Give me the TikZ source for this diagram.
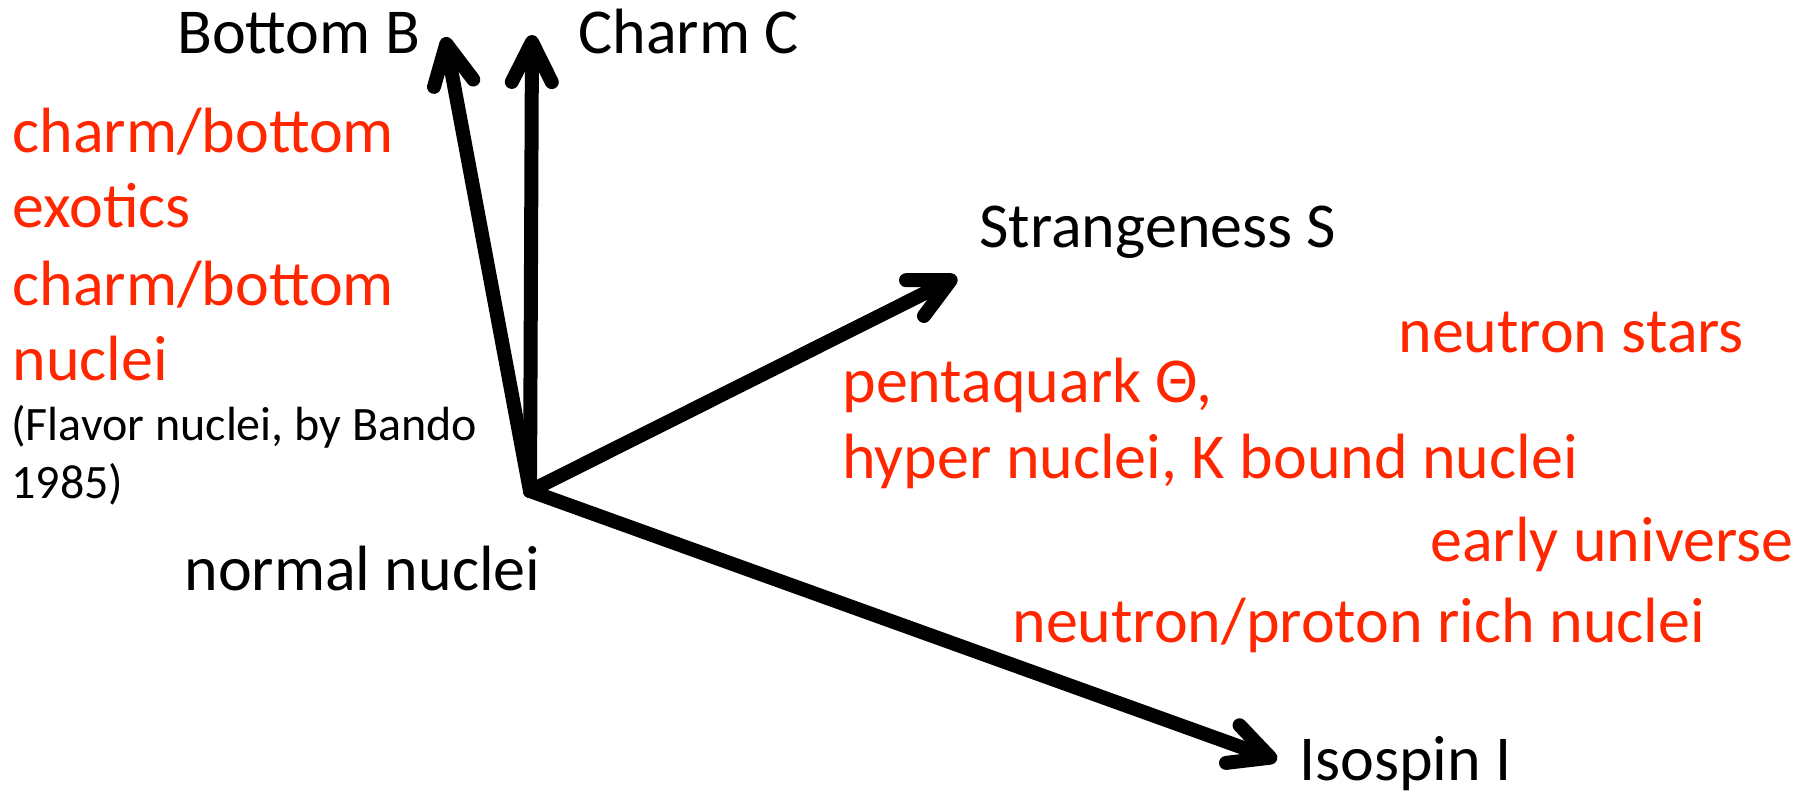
\documentclass[tikz,border=0pt]{standalone}
\usepackage{fontspec}
\setmainfont{Carlito}
\usetikzlibrary{arrows.meta}
\definecolor{hired}{RGB}{255,38,0}
\begin{document}
\begin{tikzpicture}[x=0.5pt,y=-0.5pt,
  axis/.style={line width=7pt, line cap=round, line join=round,
    -{Straight Barb[length=20pt,width=20pt,line cap=round,line join=round]}},
  big/.style={font=\fontsize{32}{38}\selectfont, anchor=base west, inner sep=0pt},
  lab/.style={big, text=black},
  redlab/.style={big, text=hired},
  small/.style={font=\fontsize{24}{29}\selectfont, anchor=base west, inner sep=0pt, text=black}]
\useasboundingbox (0,0) rectangle (1811,799);

% axes
\coordinate (O) at (530,491);
\coordinate (tB) at (445,37);
\coordinate (tC) at (532,35);
\coordinate (tS) at (957,277);
\coordinate (tI) at (1277,760);

\draw[axis] (O) -- (tB);
\draw[axis] (O) -- (tC);
\draw[axis] (O) -- (tS);
\draw[axis] (O) -- (tI);

% axis labels
\node[lab] (lB) at (177,53) {Bottom B};
\node[lab] (lC) at (578,53) {Charm C};
\node[lab] (lS) at (979,247) {Strangeness S};
\node[lab] (lI) at (1299,780) {Isospin I};
\node[lab] (ln) at (184,590) {normal nuclei};

% left block
\node[redlab] (r1) at (12,152) {charm/bottom};
\node[redlab] (r2) at (12,227) {exotics};
\node[redlab] (r3) at (12,305) {charm/bottom};
\node[redlab] (r4) at (12,380) {nuclei};
\node[small] (s1) at (11,440) {(Flavor nuclei, by Bando};
\node[small] (s2) at (11,498) {1985)};

% right block
\node[redlab] (ns) at (1398,352) {neutron stars};
\node[redlab] (pq) at (842,402) {pentaquark Θ,};
\node[redlab] (hy) at (842,478) {hyper nuclei, K bound nuclei};
\node[redlab] (eu) at (1430,561) {early universe};
\node[redlab] (np) at (1012,642) {neutron/proton rich nuclei};
\end{tikzpicture}
\end{document}
